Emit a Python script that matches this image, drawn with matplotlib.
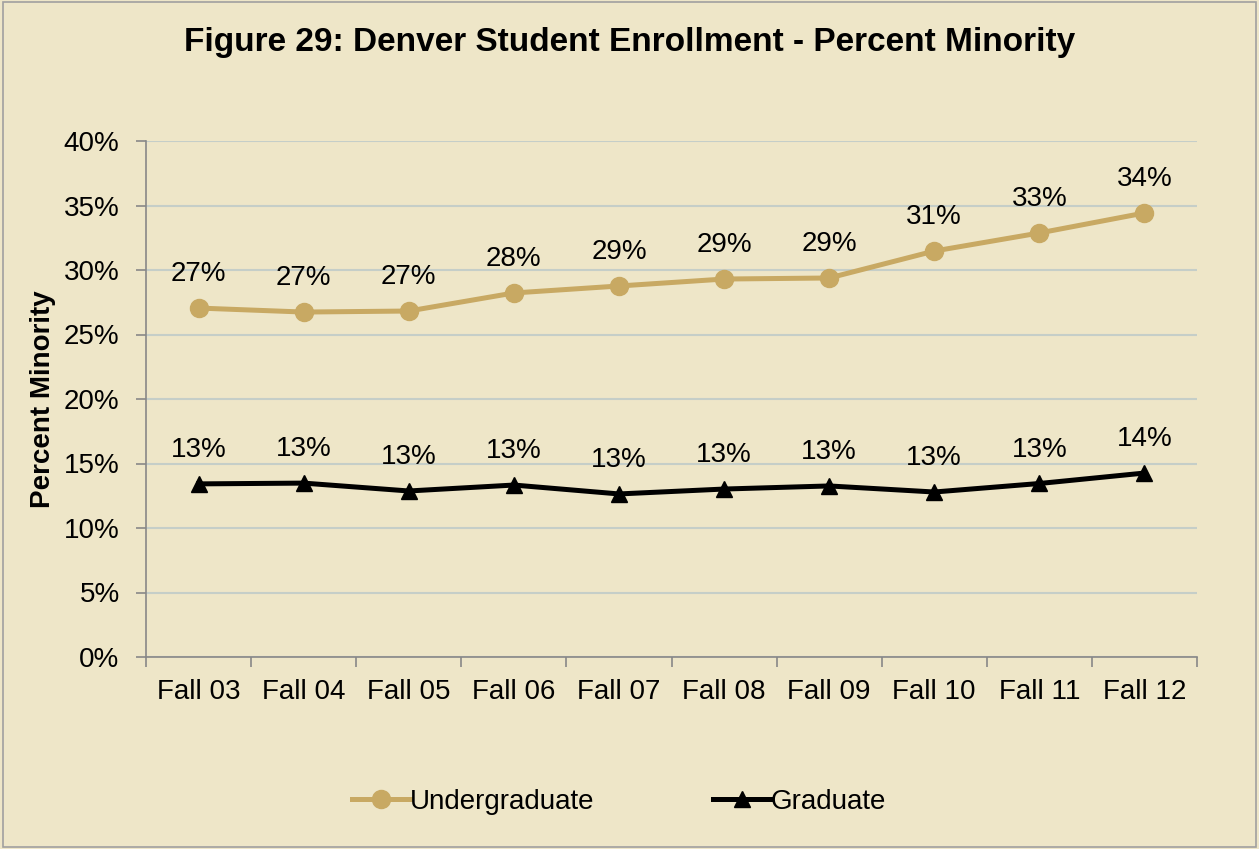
import matplotlib
matplotlib.use("Agg")
import matplotlib.pyplot as plt
from matplotlib.patches import Rectangle
import numpy as np

categories = ["Fall 03", "Fall 04", "Fall 05", "Fall 06", "Fall 07",
              "Fall 08", "Fall 09", "Fall 10", "Fall 11", "Fall 12"]
undergrad = [27.05, 26.74, 26.82, 28.22, 28.76, 29.30, 29.38, 31.47, 32.87, 34.42]
graduate = [13.42, 13.48, 12.87, 13.33, 12.64, 13.02, 13.26, 12.79, 13.45, 14.26]
yticks = [0, 5, 10, 15, 20, 25, 30, 35, 40]

plt.rcParams['font.family'] = ['Liberation Sans', 'DejaVu Sans']
BG = "#EEE6C8"
GOLD = "#C8A963"

fig = plt.figure(figsize=(12.59, 8.49), dpi=100)
fig.patch.set_facecolor(BG)
fig.patches.append(Rectangle((0.002, 0.002), 0.996, 0.996, transform=fig.transFigure,
                             fill=False, edgecolor="#A0A0A0", linewidth=1.2))

ax = fig.add_axes([146/1259, 1-657/849, (1197-146)/1259, (657-141)/849])
ax.set_facecolor(BG)
x = np.arange(len(categories))

ax.plot(x, undergrad, color=GOLD, linewidth=3.6, marker='o', markersize=13,
        label="Undergraduate", zorder=3)
ax.plot(x, graduate, color="black", linewidth=3.6, marker='^', markersize=11.5,
        label="Graduate", zorder=3)

for xi, v in zip(x, undergrad):
    ax.annotate(f"{round(v):d}%", (xi, v), xytext=(0, 15), textcoords='offset points',
                ha='center', va='bottom', fontsize=20)
for xi, v in zip(x, graduate):
    ax.annotate(f"{round(v):d}%", (xi, v), xytext=(0, 15), textcoords='offset points',
                ha='center', va='bottom', fontsize=20)

ax.set_xlim(-0.5, len(categories) - 0.5)
ax.set_ylim(0, 40)
ax.set_yticks(yticks)
ax.set_yticklabels([f"{t}%" for t in yticks], fontsize=20)
ax.set_xticks(x)
ax.set_xticklabels(categories, fontsize=20)
ax.set_xticks(np.arange(-0.5, len(categories)), minor=True)
ax.tick_params(axis='x', which='major', length=0, pad=16)
ax.tick_params(axis='x', which='minor', length=7, color="#888888", width=1.2)
ax.tick_params(axis='y', length=7, color="#888888", width=1.2, pad=12)
ax.grid(axis='y', color="#C5CEC8", linewidth=1.5, zorder=0)
ax.set_axisbelow(True)
for s in ['top', 'right']:
    ax.spines[s].set_visible(False)
for s in ['left', 'bottom']:
    ax.spines[s].set_color("#888888")
    ax.spines[s].set_linewidth(1.2)

ax.set_ylabel("Percent Minority", fontsize=20, fontweight='bold', labelpad=6)

fig.text(0.5, 1-42/849, "Figure 29: Denver Student Enrollment - Percent Minority",
         ha='center', va='center', fontsize=24, fontweight='bold')

fig.legend(loc='center', bbox_to_anchor=(619/1259, 1-802/849), ncol=2, frameon=False,
           fontsize=20, handlelength=2.1, handletextpad=0.0, columnspacing=4.25)

fig.savefig("out.png", dpi=100, facecolor=BG)
